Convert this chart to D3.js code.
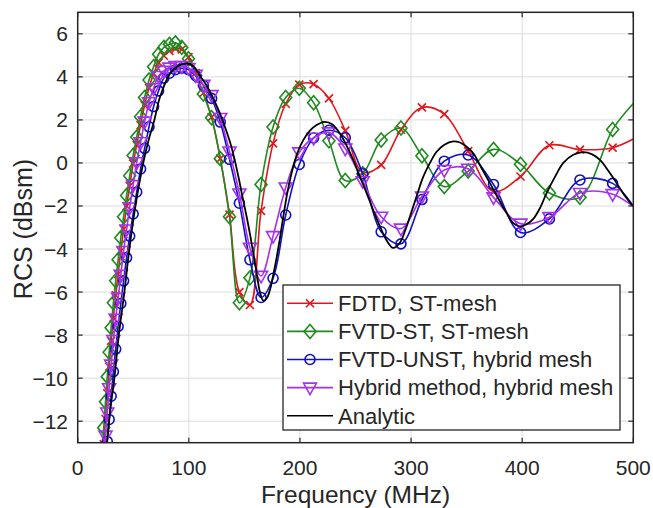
<!DOCTYPE html>
<html><head><meta charset="utf-8">
<script src="https://cdn.jsdelivr.net/npm/d3@7"></script>
<style>
body{margin:0;background:#fff}
svg{display:block}
text{font-family:"Liberation Sans",Arial,Helvetica,sans-serif;fill:#262626}
</style>
</head><body><svg id="c" width="653" height="508"></svg>
<script>
// ---------- data ----------
const freqs = [22.0,23.4,25.0,26.6,28.3,30.1,32.1,34.2,36.4,38.8,41.3,44.0,46.8,49.9,53.1,56.6,60.2,64.2,68.3,72.8,77.5,82.5,87.9,93.6,99.7,106.2,113.1,120.5,128.3,136.6,145.5,155.0,165.0,175.8,187.2,199.4,212.3,226.1,240.8,256.5,273.1,290.9,309.8,329.9,351.4,374.2,398.5,424.5,452.0,481.4,500.0];
const fdtd = [-14.1,-13.07,-11.9,-10.7,-9.47,-8.27,-7.2,-6.15,-5.16,-4.09,-3.08,-2.0,-1.07,-0.03,0.83,1.76,2.68,3.49,4.15,4.66,4.98,5.21,5.31,5.27,4.92,4.18,3.25,2.13,0.2,-2.4,-6.0,-6.6,-2.23,0.91,2.75,3.64,3.66,3.0,1.5,-0.43,-0.09,1.54,2.58,2.27,0.55,-1.33,-0.63,0.82,0.62,0.71,1.11];
const fvtdST = [-13.4,-12.3,-11.1,-9.93,-8.8,-7.66,-6.5,-5.47,-4.5,-3.48,-2.5,-1.51,-0.6,0.35,1.2,2.15,3.04,3.85,4.47,5.05,5.37,5.51,5.58,5.37,4.84,4.06,3.2,2.1,0.2,-2.5,-6.5,-5.34,-1.0,1.67,3.04,3.47,2.8,1.03,-0.82,-0.5,1.07,1.62,0.33,-1.1,-0.38,0.63,-0.06,-1.4,-1.6,1.55,2.76];
const fvtdUNST = [-15.7,-14.9,-13.9,-12.94,-11.92,-10.84,-9.7,-8.65,-7.6,-6.53,-5.48,-4.4,-3.4,-2.37,-1.35,-0.28,0.68,1.68,2.62,3.35,3.94,4.17,4.33,4.4,4.34,4.06,3.61,3.0,1.9,0.17,-1.87,-4.5,-6.25,-5.36,-2.42,-0.07,1.16,1.52,1.17,-0.5,-3.2,-3.76,-1.7,0.08,0.37,-1.0,-3.23,-2.6,-0.79,-0.95,-2.02];
const hybrid = [-14.7,-13.7,-12.67,-11.6,-10.47,-9.37,-8.23,-7.24,-6.27,-5.2,-4.09,-3.09,-2.07,-1.03,0.03,0.96,1.92,2.82,3.47,4.04,4.28,4.43,4.5,4.5,4.41,4.09,3.63,3.15,2.09,0.53,-1.42,-3.94,-5.25,-3.4,-1.14,0.49,1.17,1.42,0.67,-0.85,-2.5,-3.05,-1.56,-0.33,-0.27,-1.6,-2.82,-2.52,-1.4,-1.45,-2.02];
const analyticFreq = [26.3,30,33,37,42,46.5,52,59,64,69,74,83,90,99,104,110,116,122,128,133,137,141,144.6,148,152,155,158,161,164,167,170,173,176,179,182,185,189,194,198,203,209,215,222,229,236,242,248,254,260,266,272,278,284,290,295,299,305,311,317,323,330,338,344,350,356,363,371,379,386,392,398,404,410,416,422,430,437,446,455,463,470,478,485,492,500];
const analytic = [-13.0,-11.2,-10.0,-8.0,-6.0,-4.0,-2.0,0,1.1,2.0,3.05,4.15,4.5,4.62,4.5,4.05,3.6,3.0,2.3,1.6,0.98,0.2,-0.63,-1.5,-2.49,-3.3,-4.18,-5.1,-6.0,-6.4,-6.3,-5.9,-5.2,-4.4,-3.5,-2.5,-1.3,-0.17,0.5,1.06,1.5,1.76,1.91,1.8,1.37,0.8,0.14,-0.65,-1.4,-2.2,-2.95,-3.6,-3.95,-3.7,-3.1,-2.49,-1.55,-0.64,0.0,0.52,0.85,1.0,0.95,0.75,0.45,-0.2,-0.94,-1.7,-2.33,-2.8,-2.95,-2.85,-2.6,-2.1,-1.4,-0.6,0.0,0.38,0.5,0.4,0.14,-0.4,-0.94,-1.5,-2.02];
const xTicks = [0,100,200,300,400,500];
const yTicks = [-12,-10,-8,-6,-4,-2,0,2,4,6];
const seriesNames = ["FDTD, ST-mesh","FVTD-ST, ST-mesh","FVTD-UNST, hybrid mesh","Hybrid method, hybrid mesh","Analytic"];
const xLabel = "Frequency (MHz)";
const yLabel = "RCS (dBsm)";

// ---------- layout ----------
const L = 77.7, R = 633.3, T = 12.3, B = 442.7;
const svg = d3.select("#c");
const x = d3.scaleLinear().domain([0,500]).range([L,R]);
const y = d3.scaleLinear().domain([-13,7]).range([B,T]);

// grid
const g = svg.append("g");
g.selectAll(".gx").data(xTicks).join("line")
  .attr("x1",d=>x(d)).attr("x2",d=>x(d)).attr("y1",T).attr("y2",B)
  .attr("stroke","#dcdcdc").attr("stroke-width",1);
g.selectAll(".gy").data(yTicks).join("line")
  .attr("y1",d=>y(d)).attr("y2",d=>y(d)).attr("x1",L).attr("x2",R)
  .attr("stroke","#dcdcdc").attr("stroke-width",1);

// clip
svg.append("clipPath").attr("id","clip").append("rect")
  .attr("x",L).attr("y",T).attr("width",R-L).attr("height",B-T);

const series = [
  {name:seriesNames[0], vals:fdtd, color:"#e3161b", marker:"x"},
  {name:seriesNames[1], vals:fvtdST, color:"#1f8a1f", marker:"diamond"},
  {name:seriesNames[2], vals:fvtdUNST, color:"#1010c4", marker:"circle"},
  {name:seriesNames[3], vals:hybrid, color:"#a530ee", marker:"tri"},
];

function drawMarker(sel, type, color){
  if(type==="x"){
    sel.append("path").attr("d","M-4,-4L4,4M-4,4L4,-4")
      .attr("stroke",color).attr("stroke-width",1.6).attr("fill","none");
  } else if(type==="diamond"){
    sel.append("path").attr("d","M0,-7L6,0L0,7L-6,0Z")
      .attr("stroke",color).attr("stroke-width",1.6).attr("fill","none");
  } else if(type==="circle"){
    sel.append("circle").attr("r",5)
      .attr("stroke",color).attr("stroke-width",1.6).attr("fill","none");
  } else if(type==="tri"){
    sel.append("path").attr("d","M-6.5,-4.5L6.5,-4.5L0,7Z")
      .attr("stroke",color).attr("stroke-width",1.6).attr("fill","none");
  }
}

const plot = svg.append("g").attr("clip-path","url(#clip)");
const line = d3.line().x(d=>x(d[0])).y(d=>y(d[1])).curve(d3.curveCatmullRom.alpha(0.5));

series.forEach(s=>{
  const pts = freqs.map((f,i)=>[f,s.vals[i]]);
  plot.append("path").datum(pts).attr("d",line)
    .attr("fill","none").attr("stroke",s.color).attr("stroke-width",1.6);
  const mk = pts.filter(p=>p[0] < 500);
  plot.append("g").selectAll("g").data(mk).join("g")
    .attr("transform",d=>`translate(${x(d[0])},${y(d[1])})`)
    .each(function(){ drawMarker(d3.select(this), s.marker, s.color); });
});
plot.append("path").datum(analyticFreq.map((f,i)=>[f,analytic[i]])).attr("d",line)
  .attr("fill","none").attr("stroke","#000").attr("stroke-width",1.8);

// axes box and ticks
const ax = svg.append("g").attr("stroke","#262626");
ax.append("rect").attr("x",L).attr("y",T).attr("width",R-L).attr("height",B-T)
  .attr("fill","none").attr("stroke-width",1.5);
xTicks.forEach(t=>{
  ax.append("line").attr("x1",x(t)).attr("x2",x(t)).attr("y1",B).attr("y2",B-5).attr("stroke-width",1.2);
  ax.append("line").attr("x1",x(t)).attr("x2",x(t)).attr("y1",T).attr("y2",T+5).attr("stroke-width",1.2);
});
yTicks.forEach(t=>{
  ax.append("line").attr("y1",y(t)).attr("y2",y(t)).attr("x1",L).attr("x2",L+5).attr("stroke-width",1.2);
  ax.append("line").attr("y1",y(t)).attr("y2",y(t)).attr("x1",R).attr("x2",R-5).attr("stroke-width",1.2);
});
const fmt = d => d<0 ? "\u2212"+Math.abs(d) : String(d);
svg.append("g").selectAll("text").data(xTicks).join("text")
  .attr("x",d=>x(d)).attr("y",475).attr("text-anchor","middle")
  .attr("font-size",21).text(fmt);
svg.append("g").selectAll("text").data(yTicks).join("text")
  .attr("x",68).attr("y",d=>y(d)+7.5).attr("text-anchor","end")
  .attr("font-size",21).text(fmt);

svg.append("text").attr("x",(L+R)/2).attr("y",503).attr("text-anchor","middle")
  .attr("font-size",24.5).text(xLabel);
svg.append("text").attr("transform",`translate(32,229) rotate(-90)`)
  .attr("text-anchor","middle").attr("font-size",25).text(yLabel);

// legend
const lg = svg.append("g");
lg.append("rect").attr("x",283).attr("y",285).attr("width",337).attr("height",145)
  .attr("fill","#fff").attr("stroke","#262626").attr("stroke-width",1.3);
const legItems = series.concat([{name:seriesNames[4], color:"#000", marker:null}]);
legItems.forEach((s,i)=>{
  const cy = 303.3 + i*28.1;
  lg.append("line").attr("x1",287).attr("x2",333).attr("y1",cy).attr("y2",cy)
    .attr("stroke",s.color).attr("stroke-width",1.6);
  if(s.marker){ drawMarker(lg.append("g").attr("transform",`translate(310,${cy})`), s.marker, s.color); }
  lg.append("text").attr("x",338).attr("y",cy+7.8).attr("font-size",22).text(s.name);
});
</script>
</body></html>
